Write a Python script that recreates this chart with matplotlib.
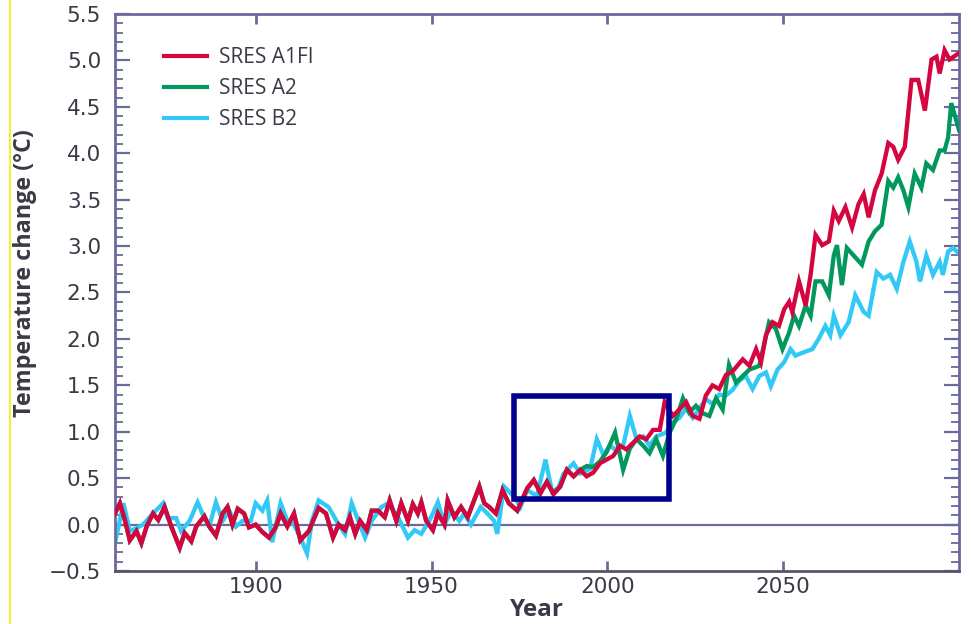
import matplotlib
matplotlib.use("Agg")
import matplotlib.pyplot as plt
from matplotlib.lines import Line2D
from matplotlib.patches import Rectangle
import numpy as np

plt.rcParams["font.family"] = ["Open Sans", "DejaVu Sans"]

# SRES A1FI (red)
red_years = [1860, 1861.4, 1862.8, 1864.2, 1866.1, 1867.5, 1869, 1870.8, 1872.3, 1874.1,
             1876, 1878.4, 1879.8, 1881.7, 1883.1, 1885.4, 1886.8, 1888.7, 1890.6, 1892,
             1893.4, 1894.9, 1896.7, 1898.1, 1900, 1901.9, 1903.8, 1905.7, 1907.1, 1909,
             1910.9, 1912.7, 1915.1, 1917.9, 1920, 1922, 1923.6, 1925.4, 1926.8, 1928.3,
             1929.7, 1931.6, 1933, 1934.8, 1936.7, 1938.1, 1940, 1941.4, 1943.3, 1944.7,
             1946.1, 1947.1, 1948.5, 1950.4, 1951.8, 1953.7, 1954.6, 1956.5, 1958.4, 1960.3,
             1961.7, 1963.6, 1965, 1966.4, 1968.3, 1970.2, 1972, 1974.4, 1977.2, 1979.1,
             1981, 1982.8, 1984.7, 1986.6, 1988.5, 1990.4, 1992.3, 1994.1, 1996, 1997.9,
             1999.8, 2001.7, 2003.6, 2005.4, 2007.3, 2009.2, 2011.1, 2013, 2014.9, 2016.3,
             2018.6, 2020.5, 2022.4, 2024.3, 2026.2, 2028, 2029.9, 2031.8, 2033.7, 2035.6,
             2038.5, 2040.4, 2042.3, 2043.7, 2045.1, 2047, 2048.8, 2050.3, 2051.7, 2052.6,
             2054.5, 2056.4, 2057.8, 2059.2, 2061.1, 2063, 2064.4, 2065.8, 2067.7, 2069.6,
             2071.4, 2072.9, 2074.3, 2076.1, 2078, 2079.9, 2081.3, 2082.7, 2084.6, 2086.5,
             2088.4, 2090.3, 2092.2, 2093.6, 2094.5, 2095.9, 2097.3, 2100]
red_temp = [0.12, 0.23, 0.05, -0.17, -0.07, -0.20, -0.02, 0.12, 0.05, 0.19,
            -0.02, -0.25, -0.09, -0.18, -0.02, 0.09, -0.02, -0.12, 0.12, 0.19,
            0.00, 0.17, 0.12, -0.03, 0.00, -0.08, -0.14, -0.03, 0.12, -0.02,
            0.12, -0.17, -0.07, 0.18, 0.12, -0.14, 0.00, -0.06, 0.08, -0.10,
            0.04, -0.06, 0.15, 0.15, 0.08, 0.26, 0.04, 0.23, 0.04, 0.22,
            0.12, 0.24, 0.04, -0.06, 0.12, 0.00, 0.26, 0.08, 0.19, 0.08,
            0.22, 0.41, 0.23, 0.19, 0.12, 0.37, 0.23, 0.15, 0.39, 0.48,
            0.34, 0.46, 0.33, 0.41, 0.59, 0.52, 0.59, 0.52, 0.56, 0.66,
            0.70, 0.74, 0.85, 0.81, 0.88, 0.95, 0.92, 1.02, 1.02, 1.32,
            1.17, 1.24, 1.32, 1.17, 1.14, 1.39, 1.50, 1.46, 1.61, 1.65,
            1.78, 1.71, 1.89, 1.75, 2.04, 2.18, 2.14, 2.32, 2.40, 2.29,
            2.62, 2.36, 2.69, 3.12, 3.01, 3.05, 3.38, 3.27, 3.42, 3.20,
            3.45, 3.56, 3.31, 3.60, 3.78, 4.11, 4.07, 3.93, 4.07, 4.79,
            4.79, 4.46, 5.01, 5.04, 4.86, 5.11, 5.01, 5.08]

# SRES A2 (green) – follows A1FI until the early 1990s
green_start = 1993
green_years = [1994.1, 1996, 1997.9, 1999.8, 2002.2, 2004.5, 2006.4, 2008.3, 2010.2, 2012,
               2013.9, 2015.8, 2017.7, 2019.6, 2021.5, 2023.3, 2025.2, 2027.1, 2029, 2030.9,
               2032.8, 2034.6, 2036.6, 2038.5, 2040.4, 2043.2, 2046, 2047.9, 2049.8, 2051.7,
               2053.1, 2054.5, 2056.4, 2057.8, 2059.2, 2061.1, 2063, 2064.4, 2065.3, 2066.7,
               2068.1, 2070, 2072.4, 2074.3, 2076.1, 2078, 2079.9, 2081.3, 2082.7, 2084.2,
               2085.6, 2087.4, 2089.3, 2090.7, 2092.6, 2094.5, 2095.9, 2096.9, 2097.8, 2100]
green_temp = [0.63, 0.62, 0.68, 0.78, 0.99, 0.59, 0.82, 0.92, 0.85, 0.77,
              0.92, 0.74, 0.99, 1.14, 1.36, 1.21, 1.28, 1.20, 1.17, 1.36,
              1.24, 1.72, 1.53, 1.60, 1.67, 1.71, 2.18, 2.11, 1.89, 2.07,
              2.25, 2.14, 2.36, 2.25, 2.62, 2.62, 2.47, 2.90, 3.01, 2.58,
              2.98, 2.90, 2.80, 3.05, 3.16, 3.23, 3.70, 3.63, 3.74, 3.60,
              3.42, 3.78, 3.63, 3.89, 3.82, 4.03, 4.03, 4.17, 4.54, 4.25]

# SRES B2 (cyan)
cyan_years = [1860, 1862.4, 1864.2, 1866, 1868, 1870.8, 1873.7, 1875, 1877.4, 1878.8,
              1881.2, 1883.5, 1885.4, 1886.8, 1888.7, 1890.6, 1892.5, 1894.4, 1896.3, 1898.6,
              1900, 1901.9, 1903.3, 1904.7, 1907.1, 1909, 1910.9, 1912.7, 1914.6, 1916,
              1917.9, 1920.7, 1923.6, 1925.4, 1927.3, 1929.2, 1931.1, 1933, 1935.8, 1937.7,
              1940.5, 1943.3, 1945.2, 1947.1, 1949.9, 1951.8, 1953.7, 1955.6, 1957.9, 1959.3,
              1961.2, 1964, 1965.9, 1967.8, 1968.7, 1970.6, 1973.5, 1975.3, 1977.2, 1980,
              1982.4, 1984.3, 1986.1, 1987.6, 1990.4, 1992.3, 1995.1, 1997, 1998.9, 2000.7,
              2002.6, 2004.5, 2006.4, 2008.3, 2010.2, 2012, 2013.9, 2016.7, 2018.6, 2020.5,
              2022.4, 2024.3, 2026.2, 2028, 2029.9, 2031.8, 2033.7, 2035.6, 2037.5, 2039.4,
              2041.3, 2043.2, 2045.1, 2046.5, 2048.4, 2050.3, 2052.1, 2053.5, 2055.4, 2058.3,
              2060.1, 2062, 2063.4, 2064.4, 2066.3, 2068.6, 2070.5, 2072.9, 2074.3, 2076.6,
              2078.5, 2080.4, 2082.3, 2084.2, 2086, 2087.9, 2088.9, 2090.7, 2092.6, 2094.5,
              2095.4, 2096.9, 2098.3, 2100]
cyan_temp = [-0.20, 0.23, -0.07, -0.04, 0.00, 0.12, 0.23, 0.07, 0.07, -0.07,
             0.04, 0.24, 0.07, -0.02, 0.24, 0.04, 0.15, -0.02, 0.04, 0.04,
             0.23, 0.15, 0.26, -0.19, 0.23, 0.04, 0.00, -0.14, -0.31, 0.04,
             0.26, 0.19, 0.00, -0.10, 0.23, 0.04, -0.14, 0.04, 0.19, 0.23,
             0.08, -0.14, -0.06, -0.10, 0.08, 0.24, 0.00, 0.15, 0.04, 0.12,
             0.00, 0.19, 0.12, 0.04, -0.10, 0.41, 0.30, 0.19, 0.37, 0.31,
             0.70, 0.35, 0.40, 0.55, 0.66, 0.55, 0.60, 0.92, 0.75, 0.85,
             0.80, 0.85, 1.17, 0.92, 0.95, 0.85, 0.95, 0.99, 1.10, 1.15,
             1.25, 1.15, 1.25, 1.35, 1.30, 1.40, 1.39, 1.45, 1.55, 1.60,
             1.46, 1.60, 1.64, 1.49, 1.67, 1.75, 1.89, 1.82, 1.85, 1.89,
             2.00, 2.14, 2.04, 2.25, 2.04, 2.18, 2.47, 2.29, 2.25, 2.72,
             2.65, 2.69, 2.54, 2.83, 3.05, 2.83, 2.62, 2.90, 2.69, 2.83,
             2.69, 2.94, 2.98, 2.92]

labels = ["SRES A1FI", "SRES A2", "SRES B2"]
colors = ["#d5063f", "#00985c", "#33c9f7"]

# highlighted window (years, °C)
box_years = (1973.5, 2017.6)
box_temps = (0.28, 1.38)

red_years = np.array(red_years)
red_temp = np.array(red_temp)
hist = red_years < green_start
green_all_years = np.concatenate([red_years[hist], green_years])
green_all_temp = np.concatenate([red_temp[hist], green_temp])

fig = plt.figure(figsize=(9.71, 6.24), dpi=100)
ax = fig.add_axes([115 / 971, 1 - 571 / 624, 844 / 971, 557 / 624])

axis_col = "#6a6a9c"
text_col = "#3a3a46"
tick_font = ["DejaVu Sans"]

ax.axhline(0, color=axis_col, linewidth=1.6, zorder=1)

lw = 3.1
ax.plot(cyan_years, cyan_temp, color=colors[2], lw=lw, zorder=2, solid_joinstyle="miter")
ax.plot(green_all_years, green_all_temp, color=colors[1], lw=lw, zorder=3, solid_joinstyle="miter")
ax.plot(red_years, red_temp, color=colors[0], lw=lw, zorder=4, solid_joinstyle="miter")

ax.add_patch(Rectangle((box_years[0], box_temps[0]), box_years[1] - box_years[0],
                       box_temps[1] - box_temps[0], fill=False,
                       edgecolor="#00008f", linewidth=4, zorder=5))

ax.set_xlim(1860, 2100)
ax.set_ylim(-0.5, 5.5)
ax.set_xticks([1900, 1950, 2000, 2050])
ax.set_yticks(np.arange(-0.5, 5.51, 0.5))
ax.set_yticklabels([f"{v:.1f}".replace("-", "\u2212") for v in np.arange(-0.5, 5.51, 0.5)])
ax.set_yticks(np.arange(-0.5, 5.51, 0.1), minor=True)

ax.tick_params(axis="y", which="major", direction="in", length=11, width=1.6,
               color=axis_col, left=True, right=True, labelsize=15.5,
               labelcolor=text_col, pad=10)
ax.tick_params(axis="y", which="minor", direction="in", length=6, width=1.3,
               color=axis_col, left=True, right=True)
ax.tick_params(axis="x", which="major", direction="in", length=7, width=2,
               color=axis_col, top=True, bottom=True, labelsize=15.5,
               labelcolor=text_col, pad=4)
for lab in ax.get_xticklabels() + ax.get_yticklabels():
    lab.set_family(tick_font)

for name, spine in ax.spines.items():
    spine.set_color(axis_col)
    spine.set_linewidth(2)
ax.spines["bottom"].set_color("#55556a")

ax.set_xlabel("Year", fontsize=17.5, fontweight="bold", color=text_col, labelpad=1)
ax.set_ylabel("Temperature change (\u00b0C)", fontsize=16.8, fontweight="bold", color=text_col)
ax.yaxis.set_label_coords(-0.092, 0.535)

handles = [Line2D([], [], color=c, lw=3) for c in colors]
ax.legend(handles, labels, loc="upper left", bbox_to_anchor=(0.058, 0.941),
          frameon=False, fontsize=15, borderpad=0, borderaxespad=0,
          handlelength=2.05, handletextpad=0.6, labelspacing=0.48,
          labelcolor=text_col)

fig.add_artist(Line2D([9.5 / 971, 9.5 / 971], [0, 1], color="#f0f000", lw=1.2))

fig.savefig("out.png", dpi=100)
